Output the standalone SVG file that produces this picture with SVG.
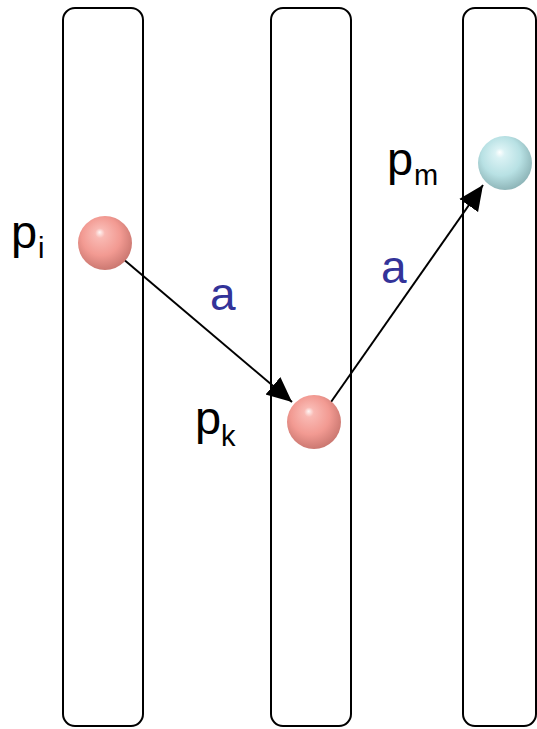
<svg xmlns="http://www.w3.org/2000/svg" width="537" height="729" viewBox="0 0 537 729">
<style>
.lane{fill:#fff;stroke:#000;stroke-width:2}
.lbl{font-family:"Liberation Sans",Arial,sans-serif;fill:#000}
.main{font-size:47px}
.sub{font-size:29px}
.act{font-family:"Liberation Sans",Arial,sans-serif;font-size:46px;fill:#333399}
.conn{stroke:#000;stroke-width:2;fill:none;marker-end:url(#ah)}
</style>
<defs>
<radialGradient id="pink" cx="0.45" cy="0.42" r="0.6" fx="0.4" fy="0.3">
<stop offset="0" stop-color="#fff6f5"/>
<stop offset="0.15" stop-color="#f9b9b3"/>
<stop offset="0.6" stop-color="#f29a92"/>
<stop offset="1" stop-color="#c9766f"/>
</radialGradient>
<radialGradient id="cyan" cx="0.45" cy="0.42" r="0.6" fx="0.4" fy="0.3">
<stop offset="0" stop-color="#ffffff"/>
<stop offset="0.15" stop-color="#daf2f4"/>
<stop offset="0.6" stop-color="#b8e1e4"/>
<stop offset="1" stop-color="#8cb3b6"/>
</radialGradient>
<marker id="ah" markerUnits="userSpaceOnUse" markerWidth="27" markerHeight="24" refX="25" refY="11.5" orient="auto">
<path d="M0,0 L25,11.5 L0,23 z" fill="#000"/>
</marker>
</defs>
<g id="lane1"><rect class="lane" x="63" y="8" width="80" height="718" rx="12"/></g>
<g id="lane2"><rect class="lane" x="271" y="8" width="80" height="718" rx="12"/></g>
<g id="lane3"><rect class="lane" x="463" y="8" width="73" height="718" rx="12"/></g>
<g id="connectors">
<line class="conn" x1="122" y1="258" x2="292" y2="402"/>
<line class="conn" x1="331" y1="402" x2="483" y2="185"/>
<text class="act" x="210" y="310">a</text>
<text class="act" x="381" y="283">a</text>
</g>
<g id="pi">
<circle cx="105" cy="243" r="27" fill="url(#pink)"/>
<text class="lbl main" x="11" y="248">p</text>
<text class="lbl sub" x="38" y="258">i</text>
</g>
<g id="pk">
<circle cx="314" cy="422" r="27" fill="url(#pink)"/>
<text class="lbl main" x="195" y="434">p</text>
<text class="lbl sub" x="221" y="446">k</text>
</g>
<g id="pm">
<circle cx="505" cy="163" r="27" fill="url(#cyan)"/>
<text class="lbl main" x="387" y="175">p</text>
<text class="lbl sub" x="414" y="185">m</text>
</g>
</svg>
